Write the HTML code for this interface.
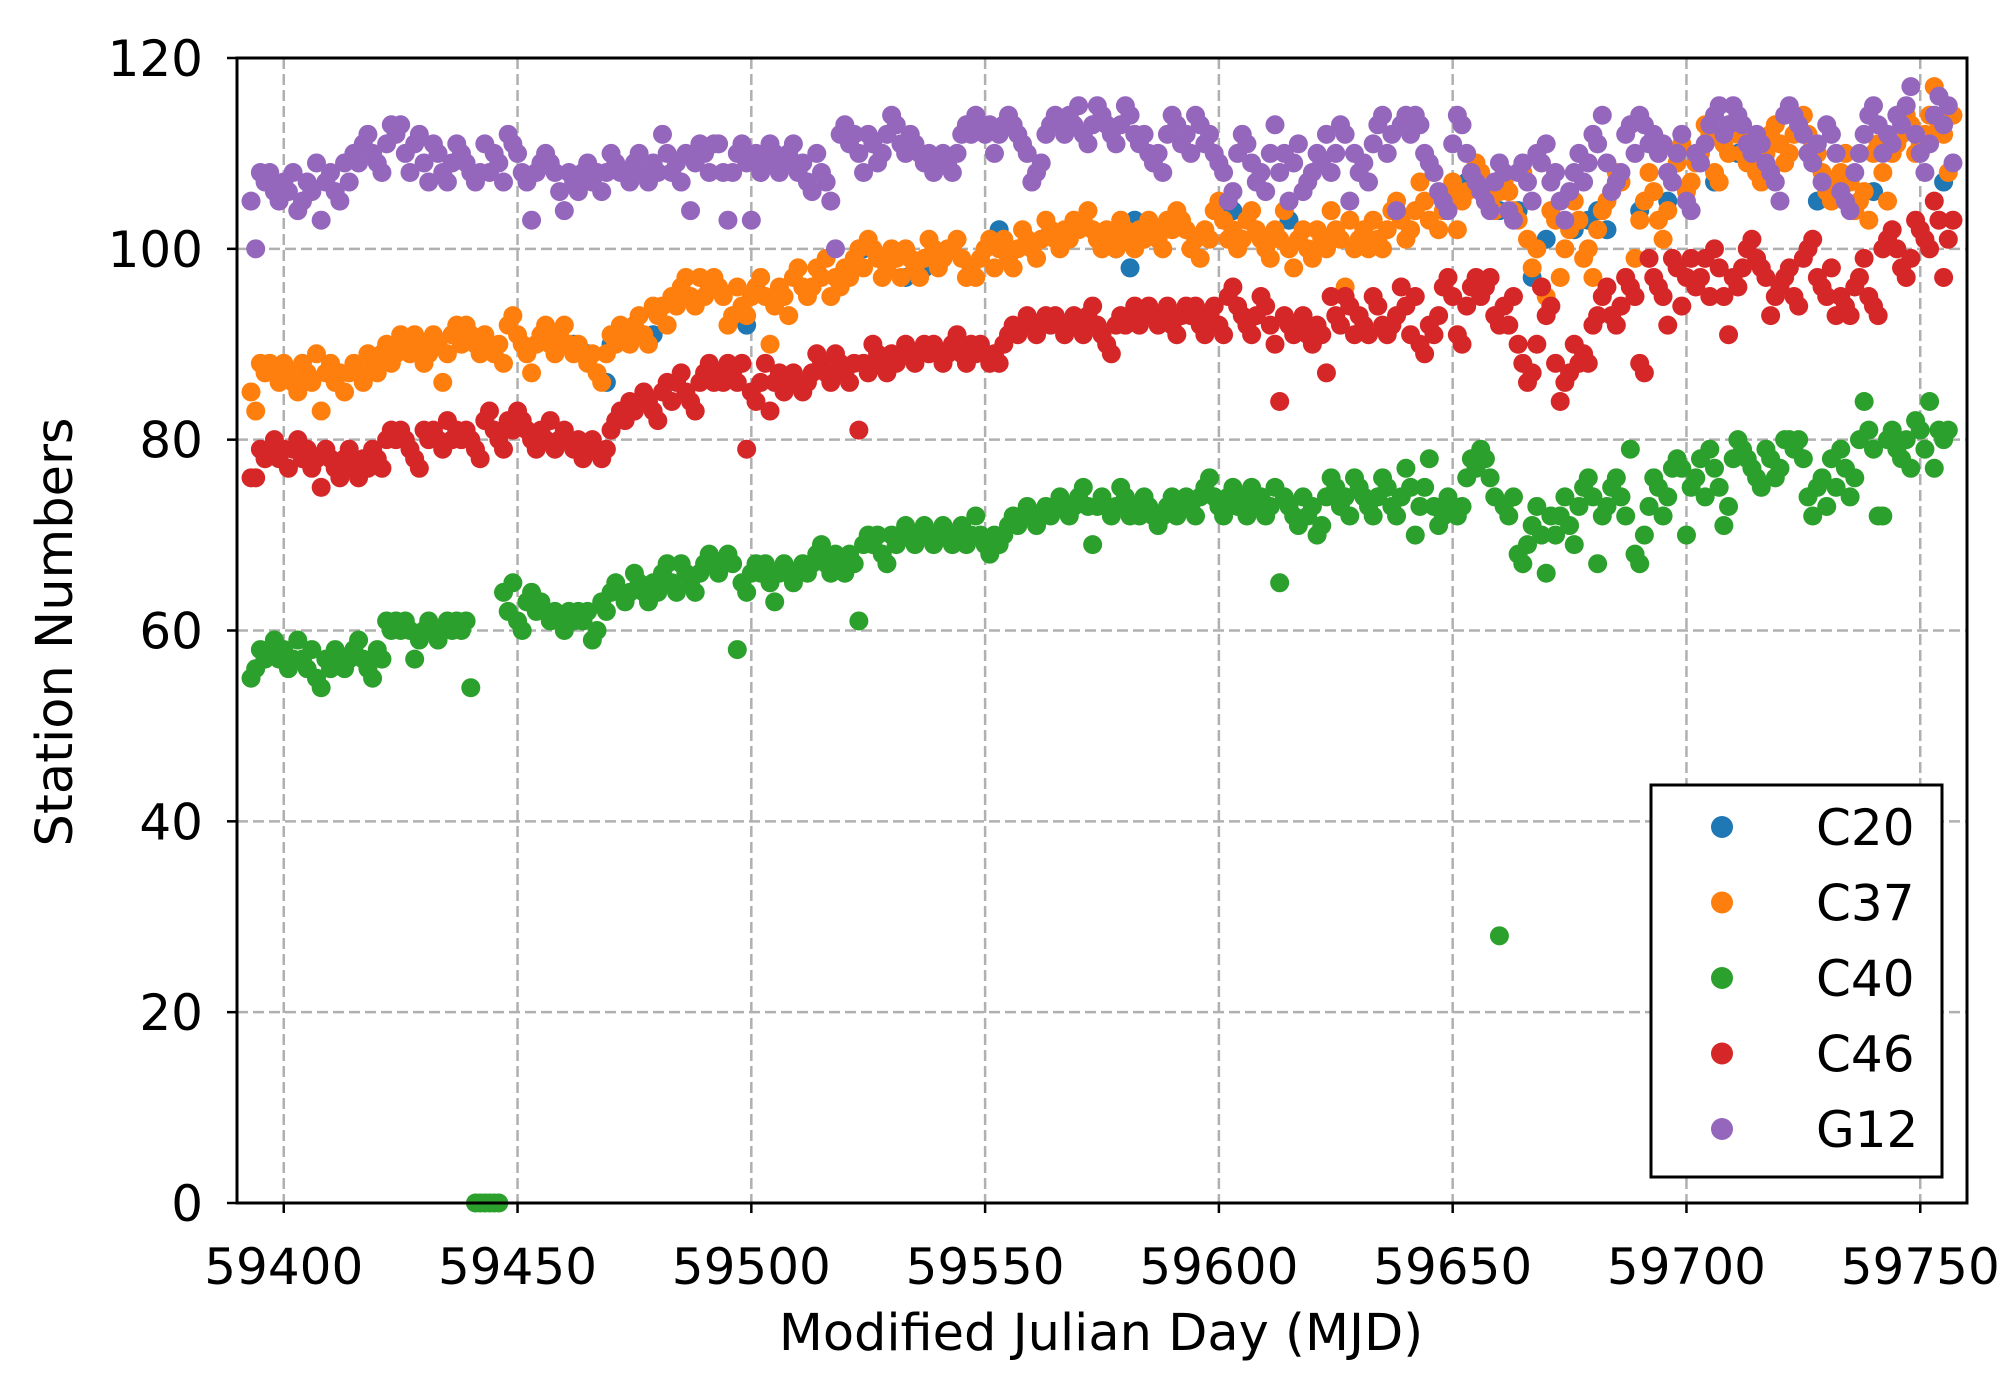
<!DOCTYPE html>
<html><head><meta charset="utf-8"><style>
html,body{margin:0;padding:0;background:#fff;}
svg{display:block;font-family:"DejaVu Sans","Liberation Sans",sans-serif;}
</style></head><body>
<svg id="chart" width="2011" height="1378" viewBox="0 0 2011 1378" xmlns="http://www.w3.org/2000/svg">
<rect x="0" y="0" width="2011" height="1378" fill="#fff"/>
<g id="grid"></g>
<g id="series"></g>
<rect x="237" y="58" width="1730" height="1145" fill="none" stroke="#000" stroke-width="3"/>
<g id="axes"></g>
<text x="1101" y="1350" font-size="51" text-anchor="middle">Modified Julian Day (MJD)</text>
<text x="0" y="0" font-size="51" text-anchor="middle" transform="translate(72,632) rotate(-90)">Station Numbers</text>
<g id="legend"></g>
</svg>
<script>
const xTicks = [59400,59450,59500,59550,59600,59650,59700,59750];
const yTicks = [0,20,40,60,80,100,120];
const startDay = 59393;
const g12 = [105,100,108,107,108,106,105,107,106,108,104,105,107,106,109,103,107,108,106,105,109,107,110,109,111,112,110,109,108,111,113,112,113,110,108,111,112,109,107,111,110,108,107,109,111,110,109,108,107,108,111,108,110,109,107,112,111,110,108,107,103,108,109,110,109,108,106,104,108,107,106,108,109,107,108,106,108,110,109,108,108,107,109,110,108,107,109,108,112,110,108,109,107,110,104,109,111,110,108,111,111,108,103,108,110,111,109,103,110,108,109,111,110,108,109,110,111,108,109,107,106,110,108,107,105,100,112,113,111,112,110,108,112,111,109,110,112,114,113,111,110,112,111,110,109,110,108,109,110,109,108,110,112,113,112,114,113,112,113,110,112,113,114,113,112,111,110,107,108,109,112,113,114,113,112,114,113,115,112,111,113,115,114,113,112,111,113,115,114,112,111,112,110,109,110,108,112,114,113,111,112,110,114,113,111,112,110,109,108,105,106,110,112,111,109,107,108,106,110,113,108,110,105,109,111,106,107,108,110,109,112,108,110,113,112,105,110,108,109,107,111,113,114,110,112,104,113,114,112,114,113,110,109,108,106,105,104,111,114,113,110,108,107,106,105,104,107,109,108,104,103,108,109,107,105,110,109,111,107,108,105,103,106,108,110,107,109,112,111,114,109,106,107,108,112,113,110,114,113,111,112,110,111,108,107,110,112,105,104,110,109,111,113,114,115,112,113,115,114,113,111,110,112,111,109,108,107,105,114,115,114,113,112,110,109,111,107,113,112,110,106,105,104,108,110,112,114,115,113,110,112,111,114,113,115,117,112,110,108,111,114,116,113,115,109];
const c37 = [85,83,88,87,88,87,86,88,87,86,85,88,87,86,89,83,87,88,86,87,85,87,88,87,86,89,88,87,89,90,88,89,91,90,89,91,90,88,89,91,90,86,89,91,92,90,92,91,90,89,91,90,89,90,88,92,93,91,90,89,87,90,91,92,90,89,91,92,90,89,90,89,88,89,87,86,89,91,90,92,91,90,92,93,91,90,94,93,94,92,95,94,96,97,95,94,97,95,96,97,96,95,92,93,96,94,93,95,96,97,95,90,94,96,95,93,97,98,96,95,96,98,97,99,95,97,96,98,97,99,100,98,101,100,99,97,98,100,99,97,100,99,98,97,99,101,100,98,99,100,100,101,99,97,98,97,99,100,101,98,100,101,99,98,100,102,101,100,99,101,103,102,101,100,102,101,103,102,103,104,102,101,100,102,101,100,103,102,101,100,102,101,103,102,101,100,103,102,104,103,102,100,101,99,102,101,104,105,103,101,102,100,101,103,104,102,101,100,99,102,101,104,100,98,101,102,100,99,102,101,100,104,102,101,96,103,100,101,102,100,103,101,100,102,104,105,103,101,102,104,107,105,103,108,102,104,106,107,102,105,106,108,109,108,107,105,104,106,107,106,104,103,108,101,98,100,96,95,104,103,97,100,102,105,103,99,100,97,102,104,105,106,108,107,97,96,99,103,105,108,106,103,101,104,107,109,111,106,107,109,110,113,112,108,107,111,110,113,112,110,109,111,108,107,110,112,113,111,109,110,112,113,114,112,111,110,108,106,105,107,108,110,107,104,105,106,103,110,111,108,105,110,111,112,114,113,110,111,112,114,117,113,112,108,114];
const c46 = [76,76,79,78,79,80,78,79,77,79,80,78,79,77,78,75,79,78,77,76,78,79,77,76,78,77,79,78,77,80,81,80,81,80,79,78,77,81,80,81,80,79,82,80,81,80,81,80,79,78,82,83,81,80,79,82,81,83,82,81,80,79,81,80,82,79,80,81,80,79,80,78,79,80,79,78,79,81,82,83,82,84,83,84,85,84,83,82,85,86,84,86,87,85,84,83,86,87,88,86,87,86,88,87,86,88,79,85,84,86,88,83,86,87,85,86,87,86,85,86,87,89,88,87,86,89,88,87,86,88,81,88,87,90,89,88,87,89,88,89,90,89,88,89,90,89,90,89,88,89,90,91,89,88,90,89,90,89,88,89,88,90,91,92,91,92,93,92,91,92,93,92,93,92,91,92,93,92,91,93,94,92,91,90,89,92,93,92,93,94,92,93,94,93,92,93,94,92,91,93,94,93,94,92,91,93,94,92,91,95,96,94,93,92,91,93,95,94,92,90,84,93,92,91,92,93,91,90,92,91,87,95,93,92,95,94,91,93,92,91,95,94,92,91,92,93,96,94,91,95,90,89,92,91,93,96,97,95,91,90,94,96,97,95,96,97,93,92,94,92,95,90,88,86,87,90,96,93,94,88,84,86,87,90,88,89,88,92,93,95,96,93,92,94,97,96,95,88,87,99,97,96,95,92,99,98,94,97,99,96,97,99,95,100,98,95,91,97,96,98,100,101,99,98,97,93,95,96,97,98,95,94,99,100,101,97,96,95,98,93,95,94,93,96,97,99,95,94,93,100,101,102,100,98,97,99,103,102,101,100,105,103,97,101,103];
const c40 = [55,56,58,57,58,59,57,58,56,57,59,57,56,58,55,54,57,56,58,57,56,57,58,59,57,56,55,58,57,61,60,61,60,61,60,57,59,60,61,60,59,60,61,60,61,60,61,54,0,0,0,0,0,0,64,62,65,61,60,63,64,62,63,62,61,62,61,60,62,61,62,61,62,59,60,63,62,64,65,64,63,64,66,65,64,63,65,64,66,67,65,64,67,66,65,64,66,67,68,67,66,67,68,67,58,65,64,66,67,66,67,65,63,66,67,66,65,66,67,66,67,68,69,67,66,68,67,66,68,67,61,69,70,69,70,68,67,70,69,70,71,70,69,70,71,70,69,70,71,70,69,70,71,69,70,72,70,69,68,70,69,70,71,72,71,72,73,72,71,72,73,72,73,74,73,72,73,74,75,73,69,73,74,73,72,73,75,74,72,73,72,74,73,72,71,72,73,74,72,73,74,73,72,74,75,76,74,73,72,74,75,73,74,72,75,73,74,72,73,75,65,74,73,72,71,74,72,73,70,71,74,76,75,73,74,72,76,75,74,73,72,74,76,75,73,72,74,77,75,70,73,75,78,73,71,72,74,73,72,73,76,78,77,79,78,76,74,28,73,72,74,68,67,69,71,73,70,66,72,70,72,74,71,69,73,75,76,74,67,72,73,75,76,74,72,79,68,67,70,73,76,75,72,74,77,78,77,70,75,76,78,74,79,77,75,71,73,78,80,79,78,77,76,75,79,78,76,77,80,80,79,80,78,74,72,75,76,73,78,75,79,77,74,76,80,84,81,79,72,72,80,81,79,78,80,77,82,81,79,84,77,81,80,81];
const c20Days = [59431,59436,59462,59465,59469,59470,59479,59499,59522,59524,59533,59537,59553,59578,59581,59582,59603,59615,59621,59653,59660,59664,59667,59670,59676,59679,59681,59683,59690,59696,59706,59711,59728,59740,59755];
const c20Vals = [90,91,90,89,86,90,91,92,98,100,97,98,102,100,98,103,104,103,100,107,104,104,97,101,102,103,104,102,104,105,107,110,105,106,107];
const seriesNames = ["C20","C37","C40","C46","G12"];
const seriesColors = ["#1f77b4","#ff7f0e","#2ca02c","#d62728","#9467bd"];

const L=237,R=1967,T=58,B=1203,X0=59390,X1=59760,Y0=0,Y1=120;
const sx=v=>L+(v-X0)/(X1-X0)*(R-L);
const sy=v=>B-(v-Y0)/(Y1-Y0)*(B-T);
const NS="http://www.w3.org/2000/svg";
function mk(tag,attrs,parent){const e=document.createElementNS(NS,tag);for(const k in attrs)e.setAttribute(k,attrs[k]);parent.appendChild(e);return e;}
const grid=document.getElementById('grid'),axes=document.getElementById('axes'),ser=document.getElementById('series'),leg=document.getElementById('legend');
xTicks.forEach(t=>{
  const g=mk('line',{x1:sx(t),x2:sx(t),y1:T,y2:B,stroke:'#b0b0b0','stroke-width':2.5,'stroke-dasharray':'11 5'},grid);
  
  
  const tk=mk('line',{x1:sx(t),x2:sx(t),y1:B,y2:B+10,stroke:'#000','stroke-width':2.5},axes);
  
  
  const tx=mk('text',{x:sx(t),y:1284,'font-size':50,'text-anchor':'middle'},axes);
  tx.textContent=t;
  
  
});
yTicks.forEach(t=>{
  const g=mk('line',{x1:L,x2:R,y1:sy(t),y2:sy(t),stroke:'#b0b0b0','stroke-width':2.5,'stroke-dasharray':'11 5'},grid);
  
  
  const tk=mk('line',{x1:L-10,x2:L,y1:sy(t),y2:sy(t),stroke:'#000','stroke-width':2.5},axes);
  
  
  const tx=mk('text',{x:203,y:sy(t)+18,'font-size':50,'text-anchor':'end'},axes);
  tx.textContent=t;
  
  
});
function drawDaily(vals,color,name){
  const g=mk('g',{fill:color},ser);
  
  
  vals.forEach((v,i)=>{
    const c=mk('circle',{cx:sx(startDay+i),cy:sy(v),r:9.5},g);
    
    
  });
}
const g20=mk('g',{fill:seriesColors[0]},ser);


c20Vals.forEach((v,i)=>{
  const c=mk('circle',{cx:sx(c20Days[i]),cy:sy(v),r:9.5},g20);
  
  
});
drawDaily(c37,seriesColors[1],'c37');
drawDaily(c40,seriesColors[2],'c40');
drawDaily(c46,seriesColors[3],'c46');
drawDaily(g12,seriesColors[4],'g12');
const box=mk('rect',{x:1651,y:785,width:291,height:392,fill:'#fff',stroke:'#000','stroke-width':3},leg);


seriesNames.forEach((n,i)=>{
  const y=827+i*75.5;
  const c=mk('circle',{cx:1722,cy:y,r:11,fill:seriesColors[i]},leg);
  
  
  const t=mk('text',{x:1816,y:y+18,'font-size':50},leg);
  t.textContent=n;
  
  
});
</script>
</body></html>
